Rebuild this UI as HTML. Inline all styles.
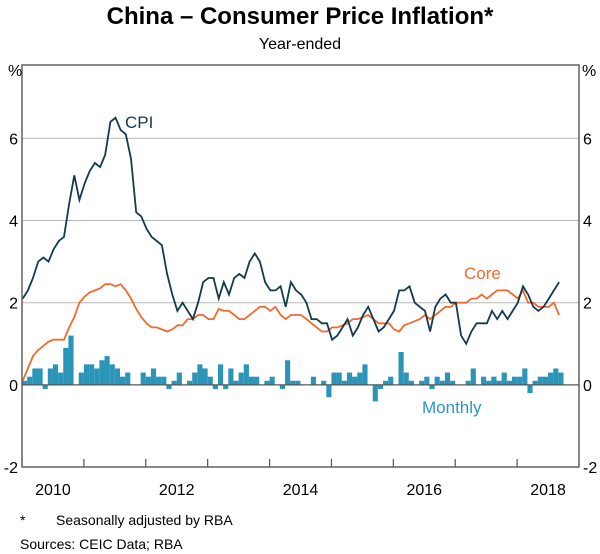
<!DOCTYPE html>
<html><head><meta charset="utf-8"><style>
body{margin:0;background:#fff;}
svg{display:block;font-family:"Liberation Sans",Arial,sans-serif;}
</style></head><body>
<svg id="chart" width="600" height="554" viewBox="0 0 600 554">
<text x="300" y="24" text-anchor="middle" font-size="24" font-weight="bold" fill="#000">China – Consumer Price Inflation*</text>
<text x="300" y="49" text-anchor="middle" font-size="16" fill="#000">Year-ended</text>
<text x="8" y="76" font-size="16" fill="#000">%</text>
<text x="582" y="76" font-size="16" fill="#000">%</text>
<g id="grid"></g>
<g id="bars"></g>
<path id="coreLine" fill="none" stroke="#f26a2e" stroke-width="1.8"/>
<path id="cpiLine" fill="none" stroke="#143a4e" stroke-width="1.8"/>
<g id="axes"></g>
<text x="125" y="128" font-size="17" fill="#143a4e">CPI</text>
<text x="464" y="279" font-size="17" fill="#f26a2e">Core</text>
<text x="422" y="413" font-size="17" fill="#2a97bf">Monthly</text>
<text x="20" y="525" font-size="14" fill="#000">*</text>
<text x="56" y="525" font-size="14" fill="#000">Seasonally adjusted by RBA</text>
<text x="20" y="549" font-size="14" fill="#000">Sources: CEIC Data; RBA</text>
</svg>
<script>
const yTicks=[-2,0,2,4,6];
const yearLabels=[2010,2012,2014,2016,2018];
const cpi=[2.1,2.3,2.6,3.0,3.1,3.0,3.3,3.5,3.6,4.4,5.1,4.5,
4.9,5.2,5.4,5.3,5.6,6.4,6.5,6.2,6.1,5.5,4.2,4.1,
3.8,3.6,3.5,3.4,2.7,2.2,1.8,2.0,1.8,1.6,2.0,2.5,
2.6,2.6,2.1,2.5,2.2,2.6,2.7,2.6,3.0,3.2,3.0,2.5,
2.3,2.3,2.4,1.9,2.5,2.3,2.2,2.0,1.6,1.6,1.5,1.5,
1.1,1.2,1.4,1.6,1.2,1.4,1.7,1.9,1.6,1.3,1.4,1.6,
1.8,2.3,2.3,2.4,2.0,1.9,1.8,1.3,1.9,2.1,2.2,2.0,
2.0,1.2,1.0,1.3,1.5,1.5,1.5,1.8,1.6,1.8,1.6,1.8,
2.0,2.4,2.2,1.9,1.8,1.9,2.1,2.3,2.5];
const core=[0.1,0.4,0.7,0.85,0.95,1.05,1.1,1.1,1.1,1.4,1.65,2.0,
2.15,2.25,2.3,2.35,2.45,2.45,2.4,2.45,2.3,2.1,1.85,1.65,
1.5,1.4,1.4,1.35,1.3,1.35,1.45,1.45,1.6,1.6,1.7,1.7,
1.6,1.6,1.85,1.8,1.8,1.7,1.6,1.6,1.7,1.8,1.9,1.9,
1.8,1.9,1.7,1.6,1.7,1.7,1.7,1.6,1.5,1.4,1.3,1.3,
1.4,1.4,1.45,1.5,1.6,1.6,1.65,1.7,1.6,1.5,1.5,1.5,
1.35,1.3,1.45,1.5,1.55,1.6,1.7,1.6,1.7,1.8,1.9,1.9,
2.0,2.0,2.0,2.1,2.1,2.2,2.1,2.2,2.3,2.3,2.3,2.2,
2.1,2.3,2.0,2.0,1.9,1.9,1.9,2.0,1.7];
const monthly=[0.1,0.2,0.4,0.4,-0.1,0.4,0.5,0.3,0.9,1.2,0.0,0.3,
0.5,0.5,0.4,0.6,0.7,0.5,0.4,0.2,0.3,0.0,0.0,0.3,
0.2,0.4,0.2,0.2,-0.1,0.1,0.3,0.0,0.1,0.3,0.5,0.4,
0.2,-0.1,0.5,-0.1,0.4,0.1,0.3,0.5,0.2,0.2,0.0,0.1,
0.2,0.0,-0.1,0.6,0.1,0.1,0.0,0.0,0.2,0.0,0.1,-0.3,
0.3,0.3,0.1,0.3,0.2,0.3,0.5,0.0,-0.4,-0.1,0.1,0.2,
0.0,0.8,0.3,0.1,0.0,0.1,0.2,-0.1,0.2,0.1,0.3,0.1,
0.0,0.0,0.1,0.4,0.0,0.2,0.1,0.2,0.1,0.3,0.1,0.2,
0.2,0.4,-0.2,0.1,0.2,0.2,0.3,0.4,0.3];
const L=22,R=579,T=65,B=467,x0=2010,x1=2019;
const ns="http://www.w3.org/2000/svg";
function xs(t){return L+(t-x0)/(x1-x0)*(R-L);}
function ys(v){return 384.9-41.1*v;}
function mx(i){return xs(x0+i/12)+0.7;}
function mk(tag,attrs,parent){const e=document.createElementNS(ns,tag);for(const k in attrs)e.setAttribute(k,attrs[k]);parent.appendChild(e);return e;}
const grid=document.getElementById('grid'),axes=document.getElementById('axes'),bars=document.getElementById('bars');
yTicks.forEach(v=>{
 if(v!==0&&v!==-2){const g=mk('line',{x1:L,x2:R,y1:ys(v),y2:ys(v),stroke:'#b8b8b8','stroke-width':1},grid);
 
 }
 const a=mk('text',{x:L-4,y:ys(v)+6,'text-anchor':'end','font-size':16},axes);a.textContent=v;
 
 
 const b=mk('text',{x:R+4,y:ys(v)+6,'font-size':16},axes);b.textContent=v;
 
 
});
const bw=(R-L)/((x1-x0)*12);
monthly.forEach((v,i)=>{
 const x=xs(x0+i/12);
 const r=mk('rect',{x:x,y:Math.min(ys(v),ys(0)),width:bw,height:Math.abs(ys(v)-ys(0)),fill:'#2a95b8'},bars);
 
 
});
function path(arr){return arr.map((v,i)=>(i?'L':'M')+mx(i).toFixed(1)+','+ys(v).toFixed(1)).join('');}
document.getElementById('cpiLine').setAttribute('d',path(cpi));
document.getElementById('coreLine').setAttribute('d',path(core));
const z=mk('line',{x1:L,x2:R,y1:ys(0),y2:ys(0),stroke:'#555','stroke-width':1.3},axes);


const f=mk('rect',{x:L,y:T,width:R-L,height:B-T,fill:'none',stroke:'#555','stroke-width':1.4},axes);


for(let yr=2011;yr<2019;yr++){
 const t=mk('line',{x1:xs(yr),x2:xs(yr),y1:B,y2:B-8,stroke:'#555','stroke-width':1.2},axes);
 
 
}
yearLabels.forEach(yr=>{
 const t=mk('text',{x:xs(yr+0.5),y:B+28,'text-anchor':'middle','font-size':16},axes);t.textContent=yr;
 
 
});
</script>
</body></html>
